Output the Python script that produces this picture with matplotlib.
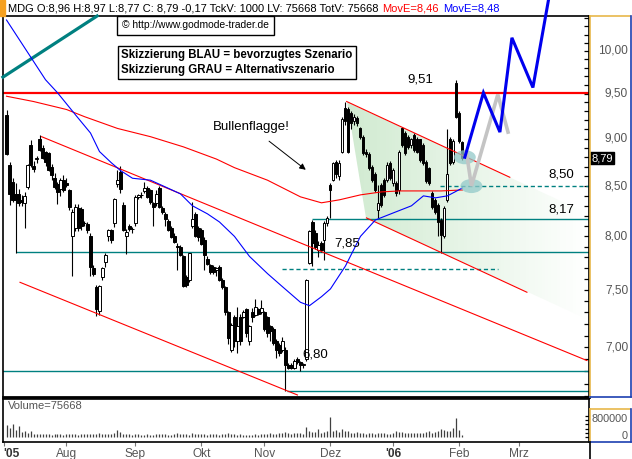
import numpy as np
import matplotlib
matplotlib.use("Agg")
import matplotlib.pyplot as plt
from matplotlib.patches import Polygon, Ellipse, Rectangle
from matplotlib.lines import Line2D
from matplotlib.colors import LinearSegmentedColormap
from matplotlib.ticker import NullFormatter

plt.rcParams['font.family'] = ['Liberation Sans', 'DejaVu Sans']

W, H = 632, 459

# daily candles, Jul 2005 - early Feb 2006
opens = [9.26, 8.72, 8.54, 8.42, 8.42, 8.36, 8.33, 8.49, 8.93, 8.71,
         8.78, 9.00, 8.90, 8.85, 8.84, 8.70, 8.58, 8.52, 8.47, 8.56,
         8.53, 8.46, 8.00, 8.08, 8.28, 8.27, 8.13, 8.12, 8.00, 7.70,
         7.53, 7.31, 7.62, 7.76, 8.00, 8.06, 8.13, 8.52, 8.64, 8.31,
         8.00, 8.10, 8.07, 8.13, 8.39, 8.41, 8.45, 8.48, 8.46, 8.33,
         8.33, 8.48, 8.28, 8.22, 8.15, 8.08, 8.00, 7.91, 7.90, 7.81,
         7.62, 7.59, 8.10, 8.22, 8.08, 8.06, 7.97, 7.79, 7.73, 7.71,
         7.68, 7.71, 7.59, 7.53, 7.30, 6.98, 7.26, 7.05, 7.26, 7.26,
         7.33, 7.05, 7.30, 7.28, 7.33, 7.30, 7.30, 7.26, 7.18, 7.16,
         7.05, 7.02, 6.98, 6.98, 6.85, 6.85, 6.83, 6.90, 6.88, 6.85,
         6.90, 7.75, 8.14, 8.03, 7.87, 7.94, 7.97, 8.13, 8.51, 8.56,
         8.75, 8.60, 8.86, 9.34, 9.32, 9.28, 9.19, 9.23, 9.11, 9.02,
         8.86, 8.83, 8.70, 8.62, 8.26, 8.51, 8.56, 8.56, 8.74, 8.53,
         8.53, 8.46, 9.11, 9.06, 9.02, 8.93, 9.04, 9.00, 8.99, 8.93,
         8.75, 8.69, 8.43, 8.36, 8.31, 8.16, 8.00, 8.36, 9.00, 8.75,
         9.62, 9.28, 8.96]
highs = [9.31, 8.75, 8.58, 8.53, 8.47, 8.41, 8.44, 8.73, 8.98, 8.76,
         8.81, 9.04, 8.93, 8.87, 8.85, 8.73, 8.63, 8.54, 8.58, 8.61,
         8.58, 8.47, 8.27, 8.32, 8.32, 8.29, 8.15, 8.14, 8.03, 7.73,
         7.55, 7.55, 7.71, 7.84, 8.07, 8.07, 8.38, 8.67, 8.71, 8.34,
         8.07, 8.12, 8.09, 8.41, 8.42, 8.44, 8.54, 8.50, 8.47, 8.34,
         8.46, 8.50, 8.30, 8.24, 8.17, 8.10, 8.03, 7.94, 7.92, 7.82,
         7.64, 7.84, 8.34, 8.24, 8.10, 8.08, 7.99, 7.81, 7.74, 7.73,
         7.71, 7.73, 7.61, 7.54, 7.31, 7.21, 7.28, 7.35, 7.29, 7.32,
         7.34, 7.19, 7.34, 7.42, 7.34, 7.41, 7.31, 7.27, 7.19, 7.17,
         7.07, 7.04, 7.09, 7.00, 6.87, 6.87, 6.90, 6.92, 6.89, 6.87,
         7.60, 8.06, 8.16, 8.06, 7.96, 7.96, 8.15, 8.20, 8.53, 8.75,
         8.77, 8.77, 9.24, 9.41, 9.35, 9.30, 9.27, 9.25, 9.13, 9.04,
         8.89, 8.85, 8.72, 8.64, 8.51, 8.53, 8.58, 8.75, 8.76, 8.69,
         8.55, 8.88, 9.13, 9.08, 9.04, 9.01, 9.06, 9.02, 9.00, 8.95,
         8.77, 8.70, 8.45, 8.38, 8.33, 8.18, 8.30, 9.10, 9.02, 8.99,
         9.66, 9.30, 8.97]
lows = [8.82, 8.31, 8.34, 7.84, 8.30, 8.30, 8.08, 8.47, 8.70, 8.64,
        8.74, 8.87, 8.78, 8.71, 8.66, 8.56, 8.47, 8.32, 8.40, 8.44,
        8.49, 8.26, 7.63, 8.05, 8.05, 8.06, 8.10, 8.03, 7.63, 7.63,
        7.27, 7.28, 7.59, 7.71, 7.96, 7.94, 8.09, 8.49, 8.43, 8.05,
        7.83, 8.05, 8.03, 8.10, 8.37, 8.38, 8.43, 8.38, 8.32, 8.10,
        8.30, 8.28, 8.22, 8.10, 8.05, 7.98, 7.94, 7.68, 7.81, 7.53,
        7.53, 7.57, 8.08, 7.99, 7.96, 7.92, 7.68, 7.73, 7.65, 7.65,
        7.63, 7.58, 7.51, 7.28, 7.03, 6.96, 7.00, 6.95, 7.02, 7.25,
        7.09, 7.02, 7.22, 7.27, 7.28, 7.29, 7.14, 7.09, 7.05, 7.02,
        6.91, 6.93, 6.96, 6.64, 6.82, 6.82, 6.82, 6.86, 6.80, 6.83,
        6.89, 7.74, 7.72, 7.88, 7.80, 7.85, 7.78, 8.10, 8.18, 8.55,
        8.58, 8.56, 8.84, 9.15, 8.84, 9.10, 9.15, 9.14, 9.00, 8.82,
        8.80, 8.67, 8.54, 8.44, 8.18, 8.29, 8.39, 8.54, 8.56, 8.50,
        8.40, 8.42, 8.91, 8.82, 8.89, 8.90, 8.86, 8.84, 8.75, 8.72,
        8.53, 8.51, 8.27, 8.22, 8.00, 7.84, 7.98, 8.34, 8.72, 8.73,
        9.22, 8.95, 8.77]
closes = [8.83, 8.42, 8.36, 8.36, 8.33, 8.34, 8.40, 8.72, 8.72, 8.68,
          8.79, 8.88, 8.79, 8.75, 8.67, 8.61, 8.49, 8.44, 8.56, 8.46,
          8.51, 8.29, 8.24, 8.29, 8.08, 8.10, 8.13, 8.06, 7.71, 7.65,
          7.33, 7.54, 7.70, 7.82, 8.06, 7.97, 8.37, 8.56, 8.47, 8.06,
          8.04, 8.07, 8.07, 8.39, 8.41, 8.41, 8.48, 8.39, 8.34, 8.29,
          8.42, 8.29, 8.24, 8.17, 8.06, 7.99, 7.95, 7.90, 7.82, 7.54,
          7.55, 7.84, 8.17, 8.00, 7.99, 7.93, 7.82, 7.74, 7.66, 7.66,
          7.70, 7.59, 7.53, 7.30, 7.08, 7.19, 7.05, 7.18, 7.05, 7.30,
          7.12, 7.18, 7.26, 7.35, 7.29, 7.34, 7.16, 7.12, 7.14, 7.04,
          6.98, 6.95, 7.05, 6.85, 6.83, 6.83, 6.89, 6.88, 6.85, 6.86,
          7.59, 8.05, 7.94, 7.90, 7.92, 7.87, 8.13, 8.18, 8.46, 8.74,
          8.62, 8.74, 9.21, 9.19, 8.86, 9.17, 9.24, 9.17, 9.02, 8.84,
          8.83, 8.69, 8.56, 8.46, 8.33, 8.31, 8.41, 8.72, 8.58, 8.67,
          8.43, 8.86, 8.93, 8.84, 8.91, 8.99, 8.88, 8.86, 8.77, 8.74,
          8.55, 8.53, 8.29, 8.24, 8.14, 8.01, 8.28, 8.62, 8.74, 8.97,
          9.24, 8.97, 8.79]
volume = [560, 430, 600, 320, 500, 250, 300, 180, 260, 150,
          120, 150, 130, 140, 120, 110, 130, 140, 120, 110,
          130, 120, 150, 130, 110, 120, 140, 160, 130, 120,
          150, 170, 140, 130, 160, 150, 180, 320, 250, 140,
          120, 130, 110, 150, 120, 100, 110, 120, 90, 100,
          130, 150, 140, 120, 110, 100, 130, 180, 140, 160,
          120, 110, 200, 150, 130, 140, 120, 110, 130, 140,
          120, 110, 160, 150, 180, 130, 120, 110, 140, 90,
          100, 90, 110, 120, 100, 130, 140, 160, 180, 150,
          140, 170, 200, 240, 190, 150, 180, 210, 170, 160,
          480, 300, 220, 250, 380, 200, 240, 300, 950, 280,
          350, 220, 380, 260, 300, 200, 180, 220, 190, 170,
          160, 180, 190, 150, 170, 200, 170, 150, 160, 180,
          300, 240, 220, 190, 200, 180, 170, 190, 200, 180,
          230, 260, 200, 250, 300, 400, 330, 280, 300, 430,
          880, 350, 76]  # thousand shares

# exponential moving averages as drawn
red_ma_days = [1, 10, 21, 27, 38, 49, 60, 71, 77, 88, 99, 106, 112, 119, 126, 132, 139, 146, 153]
red_ma = [9.47, 9.41, 9.32, 9.24, 9.11, 9.02, 8.91, 8.78, 8.69, 8.56, 8.39, 8.33, 8.36, 8.41,
          8.44, 8.45, 8.45, 8.45, 8.46]
blue_ma_days = [1, 14, 18, 24, 29, 32, 36, 39, 43, 49, 54, 59, 63, 68, 72, 77, 82, 88, 93, 99,
                102, 106, 109, 114, 119, 124, 130, 136, 140, 144, 148, 153]
blue_ma = [10.38, 9.66, 9.51, 9.26, 9.06, 8.86, 8.74, 8.66, 8.58, 8.56, 8.49, 8.42, 8.30, 8.22,
           8.14, 8.00, 7.81, 7.65, 7.53, 7.39, 7.36, 7.44, 7.51, 7.72, 8.00, 8.16, 8.23, 8.30,
           8.40, 8.38, 8.40, 8.48]

# trend lines (day, price) endpoints
channel_top = ([12.7, 194.5], [9.02, 6.89])
channel_bottom = ([5.5, 98], [7.57, 6.61])
flag_top = ([114.4, 168.8], [9.41, 8.59])
flag_bottom = ([121, 174.5], [8.18, 7.48])
flag_area = [(114.4, 9.41), (195.2, 8.22), (195.2, 7.23), (121, 8.18)]
old_trend = ([-0.2, 31.2], [9.69, 10.43])

# marked levels
level_values = [9.51, 8.50, 8.17, 7.85, 6.80]
level_labels = ['9,51', '8,50', '8,17', '7,85', '6,80']
low_level = 6.64
mid_dashed = 7.69

# scenario sketches
blue_days = [153.8, 160, 165.5, 169.5, 176.5, 182]
blue_path = [8.80, 9.51, 9.07, 10.16, 9.57, 10.70]
gray_days = [154.3, 156, 164.8, 168.2]
gray_path = [8.86, 8.50, 9.49, 9.07]

month_days = [0, 21, 44, 66, 87, 109, 130, 152, 172]
month_labels = ["'05", 'Aug', 'Sep', 'Okt', 'Nov', 'Dez', "'06", 'Feb', 'Mrz']
price_ticks = [7.0, 7.5, 8.0, 8.5, 9.0, 9.5, 10.0]


def fx(x):
    return x / W


def fy(y):
    return 1 - y / H


o = np.array(opens); h = np.array(highs); l = np.array(lows); c = np.array(closes)
days = np.arange(1, len(c) + 1)
up = c >= o

fig = plt.figure(figsize=(W / 100, H / 100), dpi=100)
ax = fig.add_axes([fx(3), fy(397), (589 - 3) / W, (397 - 16) / H])
vol = fig.add_axes([fx(3), fy(442), (589 - 3) / W, (442 - 399) / H])

ax.set_yscale('log')
ax.set_xlim(-0.17, 195.2)
ax.set_ylim(6.594, 10.43)
vol.set_xlim(-0.17, 195.2)
vol.set_ylim(-235000, 1788000)

teal = '#008080'
red = '#ff0000'

# flag shading
poly = Polygon(flag_area, closed=True, transform=ax.transData, fc='none', ec='none')
ax.add_patch(poly)
gx = np.linspace(114, 196, 80)
gy = np.array([6.6, 10.4])
gc = np.linspace(0, 1, 79).reshape(1, -1)
cmap = LinearSegmentedColormap.from_list('flag', ['#d0ead0', '#ffffff'])
mesh = ax.pcolormesh(gx, gy, gc, cmap=cmap, shading='flat', zorder=0.5)
mesh.set_clip_path(poly)

# levels
ax.axhline(level_values[0], color=red, lw=1.6, zorder=2)
ax.axhline(level_values[4], color=teal, lw=1.0, zorder=2)
ax.hlines(level_values[2], 102.7, 195.2, color=teal, lw=1.0, zorder=2)
ax.hlines(level_values[3], 4.2, 195.2, color=teal, lw=1.0, zorder=2)
ax.hlines(level_values[1], 145.5, 195.2, color=teal, lw=1.0, ls=(0, (3, 2)), zorder=2)
ax.hlines(low_level, 94.5, 195.2, color=teal, lw=1.0, zorder=2)
ax.hlines(mid_dashed, 93, 165, color=teal, lw=1.0, ls=(0, (3, 2)), zorder=2)

# trend lines
for xs, ys in [channel_top, channel_bottom, flag_top, flag_bottom]:
    ax.plot(xs, ys, color=red, lw=0.8, zorder=4)
ax.plot(old_trend[0], old_trend[1], color=teal, lw=2.3, zorder=4, clip_on=False)

# moving averages
ax.plot(red_ma_days, red_ma, color=red, lw=0.8, zorder=4)
ax.plot(blue_ma_days, blue_ma, color='#0000ff', lw=0.8, zorder=4)

# candles
ax.vlines(days, l, h, color='black', lw=0.8, zorder=3)
ax.bar(days[up], (c - o)[up], bottom=o[up], width=0.7, color='white',
       edgecolor='black', lw=0.7, zorder=3)
ax.bar(days[~up], (o - c)[~up], bottom=c[~up], width=0.7, color='black',
       edgecolor='black', lw=0.7, zorder=3)

# scenario sketches
for cx, cy in [(blue_days[0], blue_path[0]), (gray_days[1], gray_path[1])]:
    ax.add_patch(Ellipse((cx, cy), 7.3, cy * 0.0169, color='#92c9c9', alpha=0.75,
                         lw=0, zorder=5))
ax.plot(gray_days, gray_path, color='#c4c4c4', lw=2.6, zorder=6, solid_joinstyle='miter')
ax.plot(blue_days, blue_path, color='#0000ee', lw=2.2, zorder=7, clip_on=False,
        solid_joinstyle='miter')

# level labels
lab_pos = [(138.8, 9.66), (186, 8.62), (186, 8.26), (114.5, 7.93), (104, 6.94)]
for (tx, ty), txt in zip(lab_pos, level_labels):
    ax.text(tx, ty, txt, fontsize=9.5, ha='center', va='center', zorder=8)
ax.text(82.5, 9.13, 'Bullenflagge!', fontsize=9.5, ha='center', va='center', zorder=8)
ax.annotate('', xy=(101.5, 8.65), xytext=(87.8, 8.99),
            arrowprops=dict(arrowstyle='-|>', color='black', lw=0.7, mutation_scale=9))

# axes styling
for sp in ax.spines.values():
    sp.set_linewidth(1.2)
ax.spines['bottom'].set_linewidth(2)
ax.set_yticks(price_ticks)
ax.set_yticks(np.arange(6.6, 10.45, 0.1), minor=True)
ax.yaxis.set_major_formatter(NullFormatter())
ax.yaxis.set_minor_formatter(NullFormatter())
ax.yaxis.tick_right()
ax.tick_params(axis='y', which='both', direction='in', length=3.5, width=0.9,
               right=True, left=False, labelright=False)
ax.set_xticks([])
ytr = ax.get_yaxis_transform()
for v in price_ticks:
    ax.text((628 - 3) / 586, v, f'{v:.2f}'.replace('.', ','), transform=ytr,
            ha='right', va='center', fontsize=8.6, color='#555555', clip_on=False)
ax.text((591 - 3) / 586, closes[-1], f'{closes[-1]:.2f}'.replace('.', ','), transform=ytr,
        ha='left', va='center', fontsize=8, color='white', clip_on=False,
        bbox=dict(boxstyle='square,pad=0.12', fc='black', ec='black'))

# volume panel
vol.vlines(days, 0, np.array(volume) * 1000, color='#404040', lw=0.9)
for sp in vol.spines.values():
    sp.set_linewidth(1.2)
vol.yaxis.tick_right()
vol.set_yticks(np.arange(0, 1000001, 200000))
vol.yaxis.set_major_formatter(NullFormatter())
vol.tick_params(axis='y', direction='in', length=3, width=0.9, right=True, left=False)
vtr = vol.get_yaxis_transform()
for v, s in [(800000, '800000'), (0, '0')]:
    vol.text((628 - 3) / 586, v + (35000 if v else 40000), s, transform=vtr, ha='right',
             va='center', fontsize=7.8, color='#555555', clip_on=False)
vol.set_xticks(month_days)
vol.set_xticklabels(month_labels)
vol.tick_params(axis='x', direction='out', length=3, width=0.8, color='#777777',
                labelsize=8.6, labelcolor='#555555', pad=1.5)
for t in vol.get_xticklabels():
    if t.get_text().startswith("'"):
        t.set_fontweight('bold')
        t.set_color('#333333')
vol.get_xticklabels()[0].set_ha('left')
fig.text(fx(8), fy(406), 'Volume=75668', fontsize=8, color='#555555', va='center')

# label column frames
yel, blu = '#e8b84a', '#1c3fb0'
for x0, y0, x1, y1, col in [(590, 16, 590, 397, yel), (590, 16, 630, 16, yel),
                            (630.5, 16, 630.5, 397, blu), (590, 397, 631, 397, blu),
                            (590, 409, 590, 442, yel), (590, 409, 630, 409, yel),
                            (630.5, 409, 630.5, 442, blu), (590, 442, 631, 442, blu),
                            (589.5, 442, 589.5, 459, 'black')]:
    fig.add_artist(Line2D([fx(x0), fx(x1)], [fy(y0), fy(y1)], color=col, lw=1.2))

# header
fig.add_artist(Rectangle((0, fy(16)), fx(5), 16 / H, color='#f5a020'))
hdr = 'MDG O:8,96 H:8,97 L:8,77 C: 8,79 -0,17 TckV: 1000 LV: 75668 TotV: 75668'
r = fig.canvas.get_renderer()
t1 = fig.text(fx(8), fy(8.5), hdr, fontsize=8.0, va='center')
x1 = t1.get_window_extent(r).x1
t2 = fig.text((x1 + 4) / W, fy(8.5), 'MovE=8,46', fontsize=8.0, va='center', color=red)
x2 = t2.get_window_extent(r).x1
fig.text((x2 + 4) / W, fy(8.5), 'MovE=8,48', fontsize=8.0, va='center', color='#0000ff')

# boxes
fig.text(fx(122), fy(25.5), '\u00a9 http://www.godmode-trader.de', fontsize=7.4, va='center',
         bbox=dict(boxstyle='square,pad=0.45', fc='white', ec='black', lw=1))
fig.text(fx(121), fy(62.5), 'Skizzierung BLAU = bevorzugtes Szenario\nSkizzierung GRAU = Alternativszenario',
         fontsize=8.3, fontweight='bold', va='center', linespacing=1.25,
         bbox=dict(boxstyle='square,pad=0.3', fc='white', ec='black', lw=1))

fig.savefig('out.png', dpi=100)
